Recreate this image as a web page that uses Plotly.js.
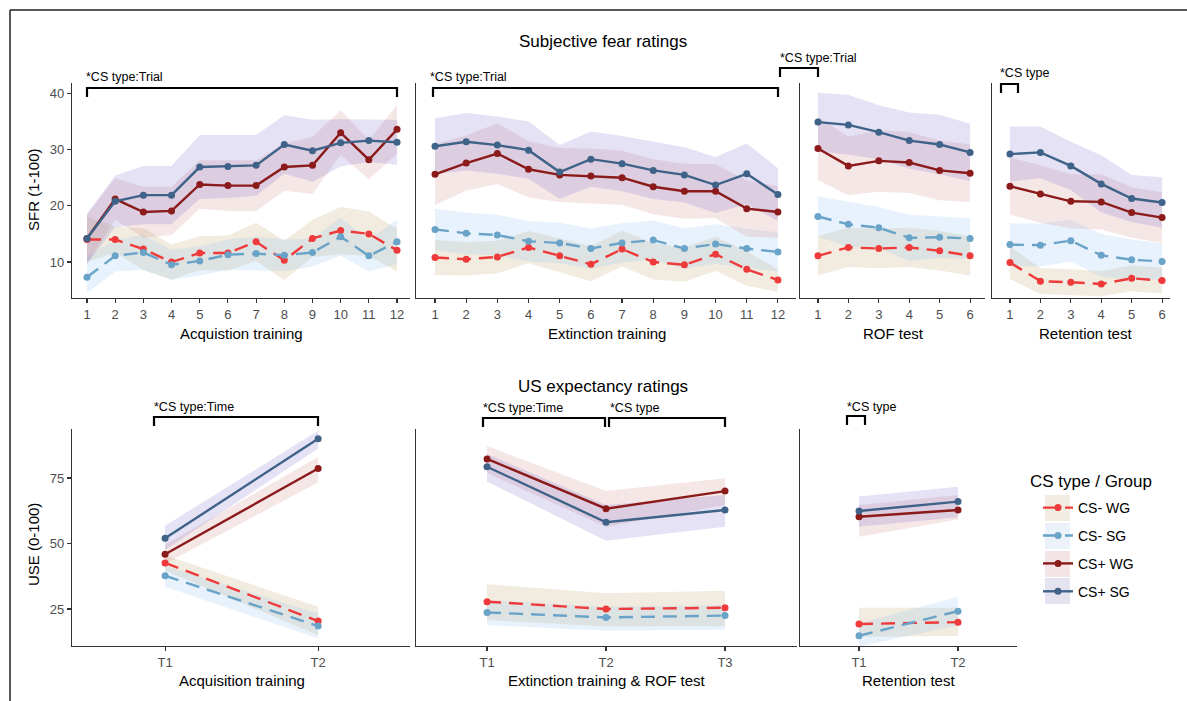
<!DOCTYPE html>
<html>
<head>
<meta charset="utf-8">
<script src="https://cdn.plot.ly/plotly-3.0.1.min.js"></script>
<style>html,body{margin:0;padding:0;background:#fff;}#chart{width:1187px;height:701px;}</style>
</head>
<body>
<div id="chart"></div>
<script>
// ---------------- DATA ----------------
const seriesNames = ['CS- WG', 'CS- SG', 'CS+ WG', 'CS+ SG'];

// Subjective fear ratings (SFR) – Acquisition training, trials 1-12
const acqTrials = [1,2,3,4,5,6,7,8,9,10,11,12];
const acqSFR_mWG    = [14.0,14.0,12.3,10.0,11.6,11.6,13.6,10.3,14.2,15.6,15.0,12.1];
const acqSFR_mWG_hi = [18.0,16.3,16.0,13.1,14.6,14.7,17.0,13.8,17.5,19.8,19.0,15.9];
const acqSFR_mWG_lo = [10.0,11.7,8.6,6.9,8.6,8.5,10.2,6.8,10.9,11.4,11.1,8.3];
const acqSFR_mSG    = [7.3,11.1,11.7,9.5,10.2,11.3,11.5,11.2,11.7,14.5,11.1,13.6];
const acqSFR_mSG_hi = [11.0,13.9,14.8,12.2,12.8,14.0,14.5,14.0,14.2,17.9,13.9,17.6];
const acqSFR_mSG_lo = [4.5,8.3,8.6,6.8,7.6,8.6,8.5,8.4,9.2,11.1,8.3,9.6];
const acqSFR_pWG    = [14.2,21.2,18.9,19.1,23.8,23.6,23.6,26.9,27.2,33.0,28.2,33.6];
const acqSFR_pWG_hi = [18.4,24.9,23.4,23.4,28.1,28.1,28.1,31.1,32.3,37.0,31.7,37.9];
const acqSFR_pWG_lo = [9.8,17.5,14.3,14.8,19.5,19.1,19.1,22.7,22.1,29.1,24.7,29.3];
const acqSFR_pSG    = [14.2,20.8,21.9,21.9,26.9,27.0,27.2,30.9,29.8,31.2,31.6,31.3];
const acqSFR_pSG_hi = [18.6,25.4,27.1,27.1,32.6,32.6,32.6,36.1,35.3,35.4,35.4,35.3];
const acqSFR_pSG_lo = [9.7,16.2,16.7,16.7,21.2,21.4,21.8,25.7,24.3,27.0,27.8,27.3];

// SFR – Extinction training, trials 1-12
const extTrials = [1,2,3,4,5,6,7,8,9,10,11,12];
const extSFR_mWG    = [10.8,10.5,10.9,12.6,11.1,9.6,12.3,10.0,9.5,11.4,8.7,6.8];
const extSFR_mWG_hi = [13.9,13.5,13.8,15.5,14.2,12.8,15.6,13.3,12.6,14.5,11.9,8.7];
const extSFR_mWG_lo = [7.7,7.6,8.0,9.8,8.2,6.6,9.2,6.9,6.5,8.4,5.8,4.7];
const extSFR_mSG    = [15.8,15.1,14.8,13.7,13.4,12.4,13.4,13.9,12.4,13.2,12.4,11.8];
const extSFR_mSG_hi = [19.5,18.8,18.4,17.3,17.0,16.0,16.9,17.4,16.0,16.7,15.9,15.3];
const extSFR_mSG_lo = [12.1,11.4,11.2,10.1,9.8,8.8,9.9,10.4,8.8,9.7,8.9,8.3];
const extSFR_pWG    = [25.6,27.6,29.3,26.5,25.5,25.3,25.0,23.4,22.6,22.6,19.5,18.9];
const extSFR_pWG_hi = [31.0,32.5,34.7,31.5,30.3,30.2,29.8,28.3,27.5,27.4,24.5,23.5];
const extSFR_pWG_lo = [20.2,22.7,23.9,21.5,20.7,20.4,20.2,18.5,17.7,17.8,14.5,14.3];
const extSFR_pSG    = [30.6,31.4,30.8,29.9,26.0,28.3,27.5,26.3,25.5,23.7,25.7,22.0];
const extSFR_pSG_hi = [35.6,36.5,35.9,35.0,30.8,33.2,32.4,31.4,30.4,28.7,31.1,26.7];
const extSFR_pSG_lo = [25.6,26.3,25.7,24.8,21.2,23.4,22.6,21.2,20.6,18.7,20.3,17.3];

// SFR – ROF test, trials 1-6
const rofTrials = [1,2,3,4,5,6];
const rofSFR_mWG    = [11.1,12.6,12.4,12.6,12.0,11.1];
const rofSFR_mWG_hi = [14.6,16.1,15.9,16.1,15.5,14.6];
const rofSFR_mWG_lo = [7.6,9.1,8.9,9.1,8.5,7.6];
const rofSFR_mSG    = [18.1,16.7,16.1,14.3,14.4,14.2];
const rofSFR_mSG_hi = [21.7,20.7,19.8,18.4,18.1,17.8];
const rofSFR_mSG_lo = [14.5,12.7,12.4,10.2,10.7,10.6];
const rofSFR_pWG    = [30.2,27.1,28.0,27.7,26.3,25.8];
const rofSFR_pWG_hi = [35.8,32.3,33.5,33.1,31.6,30.9];
const rofSFR_pWG_lo = [24.6,21.9,22.5,22.3,21.0,20.7];
const rofSFR_pSG    = [34.9,34.4,33.1,31.6,30.9,29.5];
const rofSFR_pSG_hi = [40.1,39.7,37.9,36.6,36.2,34.6];
const rofSFR_pSG_lo = [29.7,29.1,28.3,26.6,25.6,24.4];

// SFR – Retention test, trials 1-6
const retTrials = [1,2,3,4,5,6];
const retSFR_mWG    = [9.9,6.6,6.4,6.1,7.1,6.7];
const retSFR_mWG_hi = [12.8,8.9,8.7,8.4,9.4,9.0];
const retSFR_mWG_lo = [7.0,4.3,4.1,3.9,4.8,4.4];
const retSFR_mSG    = [13.1,13.0,13.8,11.2,10.4,10.1];
const retSFR_mSG_hi = [16.9,16.8,17.5,15.0,14.0,13.3];
const retSFR_mSG_lo = [9.3,9.2,10.1,7.4,6.8,6.9];
const retSFR_pWG    = [23.5,22.1,20.8,20.7,18.8,17.9];
const retSFR_pWG_hi = [28.6,27.2,25.6,25.6,23.3,22.4];
const retSFR_pWG_lo = [18.4,17.0,16.0,15.8,14.3,13.4];
const retSFR_pSG    = [29.2,29.5,27.1,23.9,21.3,20.6];
const retSFR_pSG_hi = [34.1,34.1,31.4,29.0,25.5,25.1];
const retSFR_pSG_lo = [24.3,24.9,22.8,18.8,17.1,16.1];

// US expectancy ratings (USE)
const acqTimes = [1,2];           const acqTimeLabels = ['T1','T2'];
const acqUSE_mWG = [42.6,20.4]; const acqUSE_mWG_hi = [45.5,25.9]; const acqUSE_mWG_lo = [39.7,15.0];
const acqUSE_mSG = [37.7,18.5]; const acqUSE_mSG_hi = [41.5,23.3]; const acqUSE_mSG_lo = [33.5,13.8];
const acqUSE_pWG = [45.9,78.6]; const acqUSE_pWG_hi = [49.5,83.0]; const acqUSE_pWG_lo = [42.3,73.3];
const acqUSE_pSG = [52.0,90.0]; const acqUSE_pSG_hi = [56.8,93.0]; const acqUSE_pSG_lo = [47.5,86.3];

const extTimes = [1,2,3];         const extTimeLabels = ['T1','T2','T3'];
const extUSE_mWG = [27.8,25.0,25.5]; const extUSE_mWG_hi = [34.5,31.0,32.0]; const extUSE_mWG_lo = [20.8,18.3,18.5];
const extUSE_mSG = [23.7,21.8,22.5]; const extUSE_mSG_hi = [28.4,25.9,26.5]; const extUSE_mSG_lo = [18.9,16.7,17.2];
const extUSE_pWG = [82.3,63.3,70.0]; const extUSE_pWG_hi = [87.2,70.0,74.9]; const extUSE_pWG_lo = [76.8,56.4,64.7];
const extUSE_pSG = [79.3,58.1,62.8]; const extUSE_pSG_hi = [84.2,64.7,68.5]; const extUSE_pSG_lo = [73.6,51.1,56.4];

const retTimes = [1,2];           const retTimeLabels = ['T1','T2'];
const retUSE_mWG = [19.3,20.0]; const retUSE_mWG_hi = [25.5,25.5]; const retUSE_mWG_lo = [14.4,14.7];
const retUSE_mSG = [14.8,24.2]; const retUSE_mSG_hi = [19.5,29.7]; const retUSE_mSG_lo = [10.6,18.9];
const retUSE_pWG = [60.2,62.8]; const retUSE_pWG_hi = [64.7,68.5]; const retUSE_pWG_lo = [52.6,59.2];
const retUSE_pSG = [62.4,66.0]; const retUSE_pSG_hi = [67.9,71.7]; const retUSE_pSG_lo = [56.4,60.0];

const sfrTicks = [10,20,30,40];
const useTicks = [25,50,75];

// ---------------- STYLE ----------------
const lineColors = ['#ee3a3a', '#6aa3c8', '#8b1a1a', '#3f6288'];
const ribbonColors = ['rgba(190,170,110,0.22)', 'rgba(150,195,240,0.22)', 'rgba(205,120,120,0.18)', 'rgba(120,110,200,0.20)'];
const legendBg = ['#f1ede3', '#ebf2fa', '#f3e5e5', '#e6e3f1'];
const dashes = ['14px,8px', '14px,8px', 'solid', 'solid'];
const FONT = 'Liberation Sans, Arial, sans-serif';

const W = 1187, H = 701;
const PX = v => v / W;
const PY = v => 1 - v / H;

// ---------------- PANELS ----------------
const panels = [
  {xa:'x',  ya:'y',  x: acqTrials, m:[acqSFR_mWG,acqSFR_mSG,acqSFR_pWG,acqSFR_pSG], hi:[acqSFR_mWG_hi,acqSFR_mSG_hi,acqSFR_pWG_hi,acqSFR_pSG_hi], lo:[acqSFR_mWG_lo,acqSFR_mSG_lo,acqSFR_pWG_lo,acqSFR_pSG_lo]},
  {xa:'x2', ya:'y2', x: extTrials, m:[extSFR_mWG,extSFR_mSG,extSFR_pWG,extSFR_pSG], hi:[extSFR_mWG_hi,extSFR_mSG_hi,extSFR_pWG_hi,extSFR_pSG_hi], lo:[extSFR_mWG_lo,extSFR_mSG_lo,extSFR_pWG_lo,extSFR_pSG_lo]},
  {xa:'x3', ya:'y3', x: rofTrials, m:[rofSFR_mWG,rofSFR_mSG,rofSFR_pWG,rofSFR_pSG], hi:[rofSFR_mWG_hi,rofSFR_mSG_hi,rofSFR_pWG_hi,rofSFR_pSG_hi], lo:[rofSFR_mWG_lo,rofSFR_mSG_lo,rofSFR_pWG_lo,rofSFR_pSG_lo]},
  {xa:'x4', ya:'y4', x: retTrials, m:[retSFR_mWG,retSFR_mSG,retSFR_pWG,retSFR_pSG], hi:[retSFR_mWG_hi,retSFR_mSG_hi,retSFR_pWG_hi,retSFR_pSG_hi], lo:[retSFR_mWG_lo,retSFR_mSG_lo,retSFR_pWG_lo,retSFR_pSG_lo]},
  {xa:'x5', ya:'y5', x: acqTimes, m:[acqUSE_mWG,acqUSE_mSG,acqUSE_pWG,acqUSE_pSG], hi:[acqUSE_mWG_hi,acqUSE_mSG_hi,acqUSE_pWG_hi,acqUSE_pSG_hi], lo:[acqUSE_mWG_lo,acqUSE_mSG_lo,acqUSE_pWG_lo,acqUSE_pSG_lo]},
  {xa:'x6', ya:'y6', x: extTimes, m:[extUSE_mWG,extUSE_mSG,extUSE_pWG,extUSE_pSG], hi:[extUSE_mWG_hi,extUSE_mSG_hi,extUSE_pWG_hi,extUSE_pSG_hi], lo:[extUSE_mWG_lo,extUSE_mSG_lo,extUSE_pWG_lo,extUSE_pSG_lo]},
  {xa:'x7', ya:'y7', x: retTimes, m:[retUSE_mWG,retUSE_mSG,retUSE_pWG,retUSE_pSG], hi:[retUSE_mWG_hi,retUSE_mSG_hi,retUSE_pWG_hi,retUSE_pSG_hi], lo:[retUSE_mWG_lo,retUSE_mSG_lo,retUSE_pWG_lo,retUSE_pSG_lo]}
];

const traces = [];
panels.forEach((p, pi) => {
  // ribbons first
  for (let s = 0; s < 4; s++) {
    traces.push({
      type:'scatter', mode:'lines', xaxis:p.xa, yaxis:p.ya,
      x: p.x.concat(p.x.slice().reverse()),
      y: p.hi[s].concat(p.lo[s].slice().reverse()),
      fill:'toself', fillcolor: ribbonColors[s], line:{width:0, color:'rgba(0,0,0,0)'},
      hoverinfo:'skip', showlegend:false
    });
  }
  // lines
  for (let s = 0; s < 4; s++) {
    traces.push({
      type:'scatter', mode:'lines+markers', xaxis:p.xa, yaxis:p.ya,
      x: p.x, y: p.m[s], name: seriesNames[s],
      legendgroup: seriesNames[s], showlegend: pi === 0,
      line:{color: lineColors[s], width:2.4, dash: dashes[s]},
      marker:{color: lineColors[s], size:7}
    });
  }
});

// ---------------- AXES ----------------
const baseAx = {
  showline:true, linecolor:'#333', linewidth:1.2, mirror:false,
  showgrid:false, zeroline:false, ticks:'outside', ticklen:4, tickwidth:1.1, tickcolor:'#333',
  tickfont:{family:FONT, size:13, color:'#4d4d4d'}, automargin:false, fixedrange:true
};
const noTickY = Object.assign({}, baseAx, {ticks:'', showticklabels:false});
const topY = [PY(298), PY(83)];
const botY = [PY(646), PY(429)];
const sfrRange = [3.6, 41.85];
const useRange = [10.9, 93.7];

const layout = {
  width: W, height: H,
  margin:{l:0, r:0, t:0, b:0},
  paper_bgcolor:'#fff', plot_bgcolor:'rgba(0,0,0,0)',
  font:{family:FONT, color:'#000'},
  showlegend:true,
  legend:{
    x: PX(1038), y: PY(492), xanchor:'left', yanchor:'top',
    font:{family:FONT, size:14, color:'#000'},
    bgcolor:'rgba(0,0,0,0)', traceorder:'grouped', tracegroupgap:6.7, itemwidth:30
  },
  xaxis:  Object.assign({}, baseAx, {domain:[PX(72), PX(410)],  range:[0.468, 12.46], anchor:'y',  tickvals: acqTrials}),
  yaxis:  Object.assign({}, baseAx, {domain: topY, range: sfrRange, anchor:'x', tickvals: sfrTicks}),
  xaxis2: Object.assign({}, baseAx, {domain:[PX(416), PX(796)], range:[0.39, 12.58], anchor:'y2', tickvals: extTrials}),
  yaxis2: Object.assign({}, noTickY, {domain: topY, range: sfrRange, anchor:'x2'}),
  xaxis3: Object.assign({}, baseAx, {domain:[PX(800), PX(985)], range:[0.41, 6.49], anchor:'y3', tickvals: rofTrials}),
  yaxis3: Object.assign({}, noTickY, {domain: topY, range: sfrRange, anchor:'x3'}),
  xaxis4: Object.assign({}, baseAx, {domain:[PX(992), PX(1170)], range:[0.41, 6.26], anchor:'y4', tickvals: retTrials}),
  yaxis4: Object.assign({}, noTickY, {domain: topY, range: sfrRange, anchor:'x4'}),
  xaxis5: Object.assign({}, baseAx, {domain:[PX(72), PX(410)],  range:[0.392, 2.60], anchor:'y5', tickvals: acqTimes, ticktext: acqTimeLabels}),
  yaxis5: Object.assign({}, baseAx, {domain: botY, range: useRange, anchor:'x5', tickvals: useTicks}),
  xaxis6: Object.assign({}, baseAx, {domain:[PX(416), PX(797)], range:[0.403, 3.605], anchor:'y6', tickvals: extTimes, ticktext: extTimeLabels}),
  yaxis6: Object.assign({}, noTickY, {domain: botY, range: useRange, anchor:'x6'}),
  xaxis7: Object.assign({}, baseAx, {domain:[PX(800), PX(1017)], range:[0.404, 2.596], anchor:'y7', tickvals: retTimes, ticktext: retTimeLabels}),
  yaxis7: Object.assign({}, noTickY, {domain: botY, range: useRange, anchor:'x7'})
};

// ---------------- ANNOTATIONS ----------------
const ann = [];
function txt(text, x, y, size, opts) {
  ann.push(Object.assign({text, x:PX(x), y:PY(y), xref:'paper', yref:'paper', showarrow:false,
    font:{family:FONT, size, color:'#000'}, xanchor:'center', yanchor:'middle'}, opts || {}));
}
txt('Subjective fear ratings', 603, 42, 17);
txt('US expectancy ratings', 603, 386, 17);
txt('SFR (1-100)', 33, 190, 15, {textangle:-90});
txt('USE (0-100)', 33, 545, 15, {textangle:-90});
txt('Acquistion training', 241, 333, 15);
txt('Extinction training', 607, 333, 15);
txt('ROF test', 893, 333, 15);
txt('Retention test', 1085, 333, 15);
txt('Acquisition training', 242, 680, 15);
txt('Extinction training &amp; ROF test', 607, 680, 15);
txt('Retention test', 908, 680, 15);
txt('CS type / Group', 1028, 481, 17, {xanchor:'left'});
// significance labels
txt('*CS type:Trial', 84, 77, 12.5, {xanchor:'left'});
txt('*CS type:Trial', 428, 77, 12.5, {xanchor:'left'});
txt('*CS type:Trial', 778, 58, 12.5, {xanchor:'left'});
txt('*CS type', 998, 73, 12.5, {xanchor:'left'});
txt('*CS type:Time', 152, 407, 12.5, {xanchor:'left'});
txt('*CS type:Time', 481, 408, 12.5, {xanchor:'left'});
txt('*CS type', 608, 408, 12.5, {xanchor:'left'});
txt('*CS type', 845, 407, 12.5, {xanchor:'left'});
layout.annotations = ann;

// ---------------- SHAPES ----------------
const shapes = [];
function bracket(x0, x1, yTop, yEnd) {
  shapes.push({type:'path', xref:'paper', yref:'paper',
    path:`M${PX(x0)},${PY(yEnd)} L${PX(x0)},${PY(yTop)} L${PX(x1)},${PY(yTop)} L${PX(x1)},${PY(yEnd)}`,
    line:{color:'#000', width:2.2}});
}
bracket(87, 397, 88, 97);
bracket(433, 778, 88, 97);
bracket(780, 818, 68, 77);
bracket(1001, 1018, 84, 93);
bracket(154, 318, 417, 426);
bracket(483, 605, 418, 427);
bracket(609, 725, 418, 427);
bracket(847, 865, 416, 425);
// outer frame (top and left)
shapes.push({type:'line', xref:'paper', yref:'paper', x0:PX(10), x1:1, y0:PY(10), y1:PY(10), line:{color:'#222', width:1.5}});
shapes.push({type:'line', xref:'paper', yref:'paper', x0:PX(10), x1:PX(10), y0:PY(10), y1:0, line:{color:'#222', width:1.5}});
// legend key backgrounds
const keyTop = [495, 523, 551, 578];
keyTop.forEach((t, i) => {
  shapes.push({type:'rect', xref:'paper', yref:'paper', x0:PX(1045), x1:PX(1070), y0:PY(t+26), y1:PY(t), fillcolor:legendBg[i], line:{width:0}, layer:'below'});
});
layout.shapes = shapes;

Plotly.newPlot('chart', traces, layout, {displayModeBar:false, staticPlot:true});
</script>
</body>
</html>
